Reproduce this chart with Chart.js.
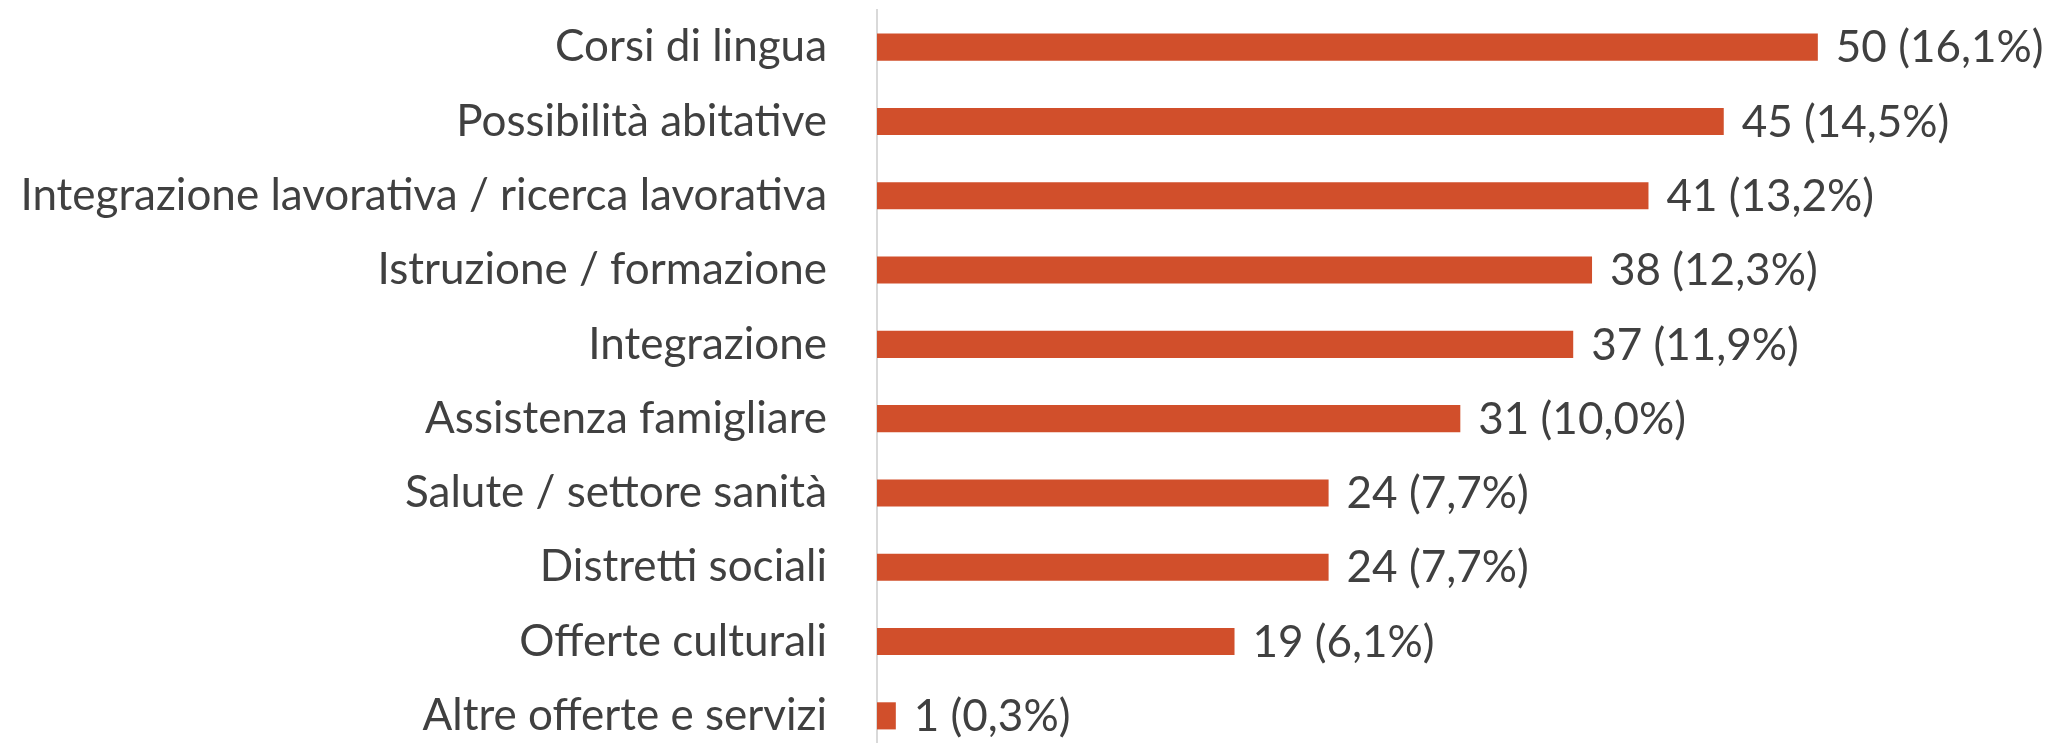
<!DOCTYPE html>
<html>
<head>
<meta charset="utf-8">
<script src="https://cdn.jsdelivr.net/npm/chart.js@4/dist/chart.umd.min.js"></script>
<style>
  html, body { margin: 0; padding: 0; background: #fff; overflow: hidden; }
  canvas { display: block; }
</style>
</head>
<body>
<canvas id="c" width="2054" height="753"></canvas>
<script>
const categories = [
    'Corsi di lingua',
    'Possibilità abitative',
    'Integrazione lavorativa / ricerca lavorativa',
    'Istruzione / formazione',
    'Integrazione',
    'Assistenza famigliare',
    'Salute / settore sanità',
    'Distretti sociali',
    'Offerte culturali',
    'Altre offerte e servizi'
];
const counts = [50, 45, 41, 38, 37, 31, 24, 24, 19, 1];
const total = counts.reduce((a, b) => a + b, 0);

const textColor = '#404040';
const barColor = '#D14F2B';
const fontFamily = 'Lato, "Open Sans", sans-serif';
const fontSize = 44;

function valueLabel(v) {
    const pct = (v / total * 100).toFixed(1).replace('.', ',');
    return `${v} (${pct}%)`;
}

// writes "n (p%)" just right of each bar
const barLabels = {
    id: 'barLabels',
    afterDatasetsDraw(chart) {
        const ctx = chart.ctx;
        const meta = chart.getDatasetMeta(0);
        ctx.save();
        ctx.font = `${fontSize}px ${fontFamily}`;
        ctx.fillStyle = textColor;
        ctx.textAlign = 'left';
        ctx.textBaseline = 'middle';
        meta.data.forEach((bar, i) => {
            ctx.fillText(valueLabel(counts[i]), bar.x + 18, bar.y + 1);
        });
        ctx.restore();
    }
};

const cfg = {
    type: 'bar',
    data: {
        labels: categories,
        datasets: [{
            data: counts,
            backgroundColor: barColor,
            borderWidth: 0,
            categoryPercentage: 1,
            barPercentage: 0.365,
        }]
    },
    options: {
        indexAxis: 'y',
        animation: false,
        responsive: false,
        layout: { padding: { top: 10, right: 48, bottom: 0, left: 0 } },
        plugins: {
            legend: { display: false },
            tooltip: { enabled: false },
        },
        scales: {
            x: {
                display: false,
                min: 0,
                max: 60,
            },
            y: {
                grid: { display: false, drawTicks: false },
                border: { display: true, color: '#D9D9D9', width: 2 },
                ticks: {
                    color: textColor,
                    padding: 50,
                    autoSkip: false,
                    font: { family: fontFamily, size: fontSize },
                },
                afterFit(scale) {
                    scale.width = 877;
                    scale.paddingTop = 0;
                    scale.paddingBottom = 0;
                },
            },
        },
    },
    plugins: [barLabels],
};

new Chart(document.getElementById('c'), cfg);
</script>
</body>
</html>
